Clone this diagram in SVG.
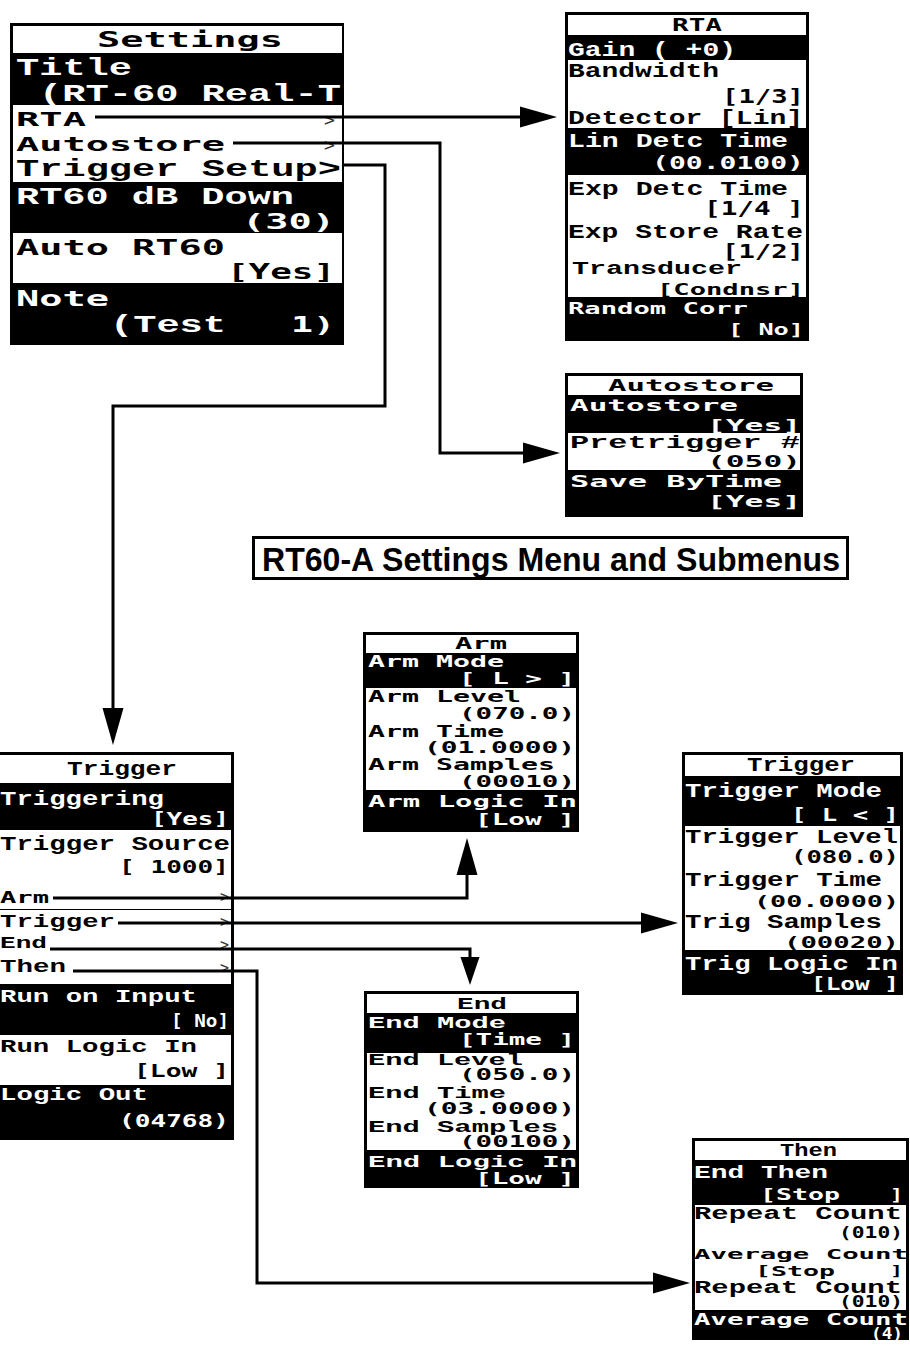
<svg xmlns="http://www.w3.org/2000/svg" width="910" height="1346" viewBox="0 0 910 1346">
<style>
.s{font-family:"DejaVu Sans Mono",monospace;font-weight:bold}
.r{font-family:"Liberation Mono","Courier New",monospace;font-weight:bold}
.w{fill:#fff}.k{fill:#000}
.ch{font-family:"DejaVu Sans Mono",monospace;font-weight:normal;fill:#333}
.frame{fill:#000}
.row{fill:#fff}
.cn{fill:none;stroke:#000;stroke-width:3;stroke-linejoin:miter}
.cap{font-family:"Liberation Sans",Arial,sans-serif;font-weight:bold;fill:#000}
</style>
<defs>
<marker id="ah" markerUnits="userSpaceOnUse" markerWidth="38" markerHeight="22" refX="0" refY="10.5" orient="auto" overflow="visible"><path d="M0,0 L37,10.5 L0,21 z" fill="#000"/></marker>
<marker id="ahs" markerUnits="userSpaceOnUse" markerWidth="29" markerHeight="20" refX="0" refY="9.5" orient="auto" overflow="visible"><path d="M0,0 L28,9.5 L0,19 z" fill="#000"/></marker>
</defs>
<rect width="910" height="1346" fill="#fff"/>

<g id="settings">
<rect class="frame" x="10" y="23" width="334" height="322"/>
<rect class="row" x="13" y="26" width="329" height="27"/>
<rect class="row" x="13" y="105" width="329" height="77"/>
<rect class="row" x="13" y="233" width="329" height="50"/>
<text class="s k" font-size="21" x="97" y="47" textLength="186" lengthAdjust="spacingAndGlyphs">Settings</text>
<text class="r w" font-size="23.5" x="16" y="75" textLength="116" lengthAdjust="spacingAndGlyphs">Title</text>
<text class="r w" font-size="23.5" x="39" y="101" textLength="302" lengthAdjust="spacingAndGlyphs">(RT-60 Real-T</text>
<text class="s k" font-size="20" x="16" y="126" textLength="70" lengthAdjust="spacingAndGlyphs">RTA</text>
<text class="ch" font-size="18" x="324" y="126">&gt;</text>
<text class="s k" font-size="20" x="16" y="151" textLength="209" lengthAdjust="spacingAndGlyphs">Autostore</text>
<text class="ch" font-size="18" x="324" y="151">&gt;</text>
<text class="r k" font-size="23.5" x="16" y="176" textLength="325" lengthAdjust="spacingAndGlyphs">Trigger Setup&gt;</text>
<text class="r w" font-size="23.5" x="16" y="204" textLength="278" lengthAdjust="spacingAndGlyphs">RT60 dB Down</text>
<text class="s w" font-size="21" x="335" y="229" text-anchor="end" textLength="93" lengthAdjust="spacingAndGlyphs">(30)</text>
<text class="s k" font-size="21" x="16" y="255" textLength="209" lengthAdjust="spacingAndGlyphs">Auto RT60</text>
<text class="s k" font-size="21" x="335" y="279" text-anchor="end" textLength="108" lengthAdjust="spacingAndGlyphs">[Yes]</text>
<text class="s w" font-size="21" x="16" y="306" textLength="93" lengthAdjust="spacingAndGlyphs">Note</text>
<text class="r w" font-size="23.5" x="110" y="332" textLength="116" lengthAdjust="spacingAndGlyphs">(Test</text>
<text class="s w" font-size="21" x="335" y="332" text-anchor="end" textLength="44" lengthAdjust="spacingAndGlyphs">1)</text>
</g>

<g id="rta">
<rect class="frame" x="565" y="12" width="244" height="329"/>
<rect class="row" x="568" y="15" width="238" height="20"/>
<rect class="row" x="568" y="60" width="238" height="68"/>
<rect class="row" x="568" y="175" width="238" height="122"/>
<text class="s k" font-size="18" x="672" y="31" textLength="50" lengthAdjust="spacingAndGlyphs">RTA</text>
<text class="r w" font-size="21" x="568" y="56" textLength="168" lengthAdjust="spacingAndGlyphs">Gain ( +0)</text>
<text class="r k" font-size="21" x="568" y="77" textLength="151" lengthAdjust="spacingAndGlyphs">Bandwidth</text>
<text class="s k" font-size="19" x="804" y="103" text-anchor="end" textLength="82" lengthAdjust="spacingAndGlyphs">[1/3]</text>
<text class="r k" font-size="21" x="568" y="124" textLength="235" lengthAdjust="spacingAndGlyphs">Detector [Lin]</text>
<text class="r w" font-size="20" x="568" y="147" textLength="220" lengthAdjust="spacingAndGlyphs">Lin Detc Time</text>
<text class="s w" font-size="18" x="804" y="169" text-anchor="end" textLength="152" lengthAdjust="spacingAndGlyphs">(00.0100)</text>
<text class="r k" font-size="21" x="568" y="195" textLength="220" lengthAdjust="spacingAndGlyphs">Exp Detc Time</text>
<text class="s k" font-size="19" x="804" y="215" text-anchor="end" textLength="100" lengthAdjust="spacingAndGlyphs">[1/4 ]</text>
<text class="r k" font-size="21" x="568" y="238" textLength="235" lengthAdjust="spacingAndGlyphs">Exp Store Rate</text>
<text class="s k" font-size="19" x="804" y="258" text-anchor="end" textLength="82" lengthAdjust="spacingAndGlyphs">[1/2]</text>
<text class="r k" font-size="18" x="572" y="274" textLength="170" lengthAdjust="spacingAndGlyphs">Transducer</text>
<text class="s k" font-size="16" x="804" y="295" text-anchor="end" textLength="147" lengthAdjust="spacingAndGlyphs">[Condnsr]</text>
<text class="s w" font-size="16" x="568" y="314" textLength="180" lengthAdjust="spacingAndGlyphs">Random Corr</text>
<text class="s w" font-size="16" x="804" y="335" text-anchor="end" textLength="76" lengthAdjust="spacingAndGlyphs">[ No]</text>
</g>

<g id="autostore">
<rect class="frame" x="565" y="373" width="238" height="144"/>
<rect class="row" x="568" y="376" width="232" height="19"/>
<rect class="row" x="568" y="433" width="232" height="37"/>
<text class="s k" font-size="16" x="608" y="391" textLength="166" lengthAdjust="spacingAndGlyphs">Autostore</text>
<text class="s w" font-size="16" x="570" y="411" textLength="168" lengthAdjust="spacingAndGlyphs">Autostore</text>
<text class="s w" font-size="16" x="801" y="431" text-anchor="end" textLength="94" lengthAdjust="spacingAndGlyphs">[Yes]</text>
<text class="r k" font-size="18" x="570" y="448" textLength="230" lengthAdjust="spacingAndGlyphs">Pretrigger #</text>
<text class="s k" font-size="16" x="801" y="467" text-anchor="end" textLength="94" lengthAdjust="spacingAndGlyphs">(050)</text>
<text class="s w" font-size="16" x="570" y="487" textLength="212" lengthAdjust="spacingAndGlyphs">Save ByTime</text>
<text class="s w" font-size="16" x="801" y="507" text-anchor="end" textLength="94" lengthAdjust="spacingAndGlyphs">[Yes]</text>
</g>

<g id="caption">
<rect x="253.5" y="537.5" width="594" height="41" fill="#fff" stroke="#000" stroke-width="3"/>
<text class="cap" font-size="34" x="262" y="571" textLength="578" lengthAdjust="spacingAndGlyphs">RT60-A Settings Menu and Submenus</text>
</g>

<g id="trigger-menu">
<rect class="frame" x="-5" y="752" width="239" height="388"/>
<rect class="row" x="-5" y="755" width="236" height="28"/>
<rect class="row" x="-5" y="830" width="236" height="154"/>
<rect class="row" x="-5" y="1035" width="236" height="50"/>
<line x1="-5" y1="909.5" x2="231" y2="909.5" stroke="#000" stroke-width="1"/>
<text class="r k" font-size="21" x="67" y="775" textLength="110" lengthAdjust="spacingAndGlyphs">Trigger</text>
<text class="r w" font-size="21" x="0" y="805" textLength="164" lengthAdjust="spacingAndGlyphs">Triggering</text>
<text class="s w" font-size="18" x="229" y="825" text-anchor="end" textLength="78" lengthAdjust="spacingAndGlyphs">[Yes]</text>
<text class="r k" font-size="21" x="0" y="850" textLength="230" lengthAdjust="spacingAndGlyphs">Trigger Source</text>
<text class="s k" font-size="18" x="229" y="873" text-anchor="end" textLength="110" lengthAdjust="spacingAndGlyphs">[ 1000]</text>
<text class="s k" font-size="15" x="0" y="903" textLength="49" lengthAdjust="spacingAndGlyphs">Arm</text>
<text class="ch" font-size="15" x="220" y="902">&gt;</text>
<text class="r k" font-size="18" x="0" y="927" textLength="115" lengthAdjust="spacingAndGlyphs">Trigger</text>
<text class="ch" font-size="15" x="220" y="927">&gt;</text>
<text class="r k" font-size="17" x="0" y="948" textLength="47" lengthAdjust="spacingAndGlyphs">End</text>
<text class="ch" font-size="15" x="220" y="950">&gt;</text>
<text class="r k" font-size="18" x="0" y="972" textLength="66" lengthAdjust="spacingAndGlyphs">Then</text>
<text class="ch" font-size="15" x="220" y="973">&gt;</text>
<text class="r w" font-size="19" x="0" y="1002" textLength="197" lengthAdjust="spacingAndGlyphs">Run on Input</text>
<text class="s w" font-size="18" x="229" y="1027" text-anchor="end" textLength="58" lengthAdjust="spacingAndGlyphs">[ No]</text>
<text class="r k" font-size="19" x="0" y="1052" textLength="197" lengthAdjust="spacingAndGlyphs">Run Logic In</text>
<text class="s k" font-size="18" x="229" y="1077" text-anchor="end" textLength="95" lengthAdjust="spacingAndGlyphs">[Low ]</text>
<text class="r w" font-size="19" x="0" y="1100" textLength="148" lengthAdjust="spacingAndGlyphs">Logic Out</text>
<text class="s w" font-size="18" x="229" y="1127" text-anchor="end" textLength="110" lengthAdjust="spacingAndGlyphs">(04768)</text>
</g>

<g id="arm">
<rect class="frame" x="363" y="632" width="216" height="200"/>
<rect class="row" x="366" y="635" width="210" height="18"/>
<rect class="row" x="366" y="688" width="210" height="102"/>
<text class="s k" font-size="15" x="455" y="649" textLength="52" lengthAdjust="spacingAndGlyphs">Arm</text>
<text class="s w" font-size="15" x="368" y="667" textLength="136" lengthAdjust="spacingAndGlyphs">Arm Mode</text>
<text class="s w" font-size="15" x="575" y="684" text-anchor="end" textLength="116" lengthAdjust="spacingAndGlyphs">[ L &gt; ]</text>
<text class="s k" font-size="15" x="368" y="702" textLength="153" lengthAdjust="spacingAndGlyphs">Arm Level</text>
<text class="s k" font-size="15" x="575" y="719" text-anchor="end" textLength="116" lengthAdjust="spacingAndGlyphs">(070.0)</text>
<text class="s k" font-size="15" x="368" y="737" textLength="136" lengthAdjust="spacingAndGlyphs">Arm Time</text>
<text class="s k" font-size="15" x="575" y="753" text-anchor="end" textLength="151" lengthAdjust="spacingAndGlyphs">(01.0000)</text>
<text class="s k" font-size="15" x="368" y="770" textLength="187" lengthAdjust="spacingAndGlyphs">Arm Samples</text>
<text class="s k" font-size="15" x="575" y="787" text-anchor="end" textLength="116" lengthAdjust="spacingAndGlyphs">(00010)</text>
<text class="s w" font-size="15" x="368" y="807" textLength="209" lengthAdjust="spacingAndGlyphs">Arm Logic In</text>
<text class="s w" font-size="15" x="575" y="825" text-anchor="end" textLength="100" lengthAdjust="spacingAndGlyphs">[Low ]</text>
</g>

<g id="trigger-sub">
<rect class="frame" x="682" y="752" width="221" height="243"/>
<rect class="row" x="685" y="755" width="215" height="21"/>
<rect class="row" x="685" y="826" width="215" height="124"/>
<text class="r k" font-size="20" x="747" y="771" textLength="108" lengthAdjust="spacingAndGlyphs">Trigger</text>
<text class="r w" font-size="21" x="685" y="797" textLength="197" lengthAdjust="spacingAndGlyphs">Trigger Mode</text>
<text class="s w" font-size="17" x="899" y="821" text-anchor="end" textLength="108" lengthAdjust="spacingAndGlyphs">[ L &lt; ]</text>
<text class="r k" font-size="21" x="685" y="843" textLength="213" lengthAdjust="spacingAndGlyphs">Trigger Level</text>
<text class="s k" font-size="17" x="899" y="863" text-anchor="end" textLength="108" lengthAdjust="spacingAndGlyphs">(080.0)</text>
<text class="r k" font-size="20" x="685" y="886" textLength="197" lengthAdjust="spacingAndGlyphs">Trigger Time</text>
<text class="s k" font-size="16" x="899" y="907" text-anchor="end" textLength="145" lengthAdjust="spacingAndGlyphs">(00.0000)</text>
<text class="r k" font-size="20" x="685" y="928" textLength="197" lengthAdjust="spacingAndGlyphs">Trig Samples</text>
<text class="s k" font-size="16" x="899" y="948" text-anchor="end" textLength="115" lengthAdjust="spacingAndGlyphs">(00020)</text>
<text class="r w" font-size="21" x="685" y="970" textLength="213" lengthAdjust="spacingAndGlyphs">Trig Logic In</text>
<text class="s w" font-size="17" x="899" y="990" text-anchor="end" textLength="88" lengthAdjust="spacingAndGlyphs">[Low ]</text>
</g>

<g id="end">
<rect class="frame" x="364" y="991" width="215" height="197"/>
<rect class="row" x="367" y="994" width="209" height="19"/>
<rect class="row" x="367" y="1053" width="209" height="97"/>
<text class="r k" font-size="17" x="457" y="1009" textLength="50" lengthAdjust="spacingAndGlyphs">End</text>
<text class="r w" font-size="17" x="368" y="1028" textLength="138" lengthAdjust="spacingAndGlyphs">End Mode</text>
<text class="s w" font-size="15" x="575" y="1045" text-anchor="end" textLength="116" lengthAdjust="spacingAndGlyphs">[Time ]</text>
<text class="r k" font-size="17" x="368" y="1065" textLength="155" lengthAdjust="spacingAndGlyphs">End Level</text>
<text class="s k" font-size="15" x="575" y="1080" text-anchor="end" textLength="116" lengthAdjust="spacingAndGlyphs">(050.0)</text>
<text class="r k" font-size="17" x="368" y="1098" textLength="138" lengthAdjust="spacingAndGlyphs">End Time</text>
<text class="s k" font-size="15" x="575" y="1114" text-anchor="end" textLength="151" lengthAdjust="spacingAndGlyphs">(03.0000)</text>
<text class="r k" font-size="17" x="368" y="1132" textLength="190" lengthAdjust="spacingAndGlyphs">End Samples</text>
<text class="s k" font-size="15" x="575" y="1147" text-anchor="end" textLength="116" lengthAdjust="spacingAndGlyphs">(00100)</text>
<text class="r w" font-size="17" x="368" y="1167" textLength="209" lengthAdjust="spacingAndGlyphs">End Logic In</text>
<text class="s w" font-size="15" x="575" y="1184" text-anchor="end" textLength="100" lengthAdjust="spacingAndGlyphs">[Low ]</text>
</g>

<g id="then">
<rect class="frame" x="692" y="1138" width="217" height="202"/>
<rect class="row" x="695" y="1141" width="211" height="19"/>
<rect class="row" x="695" y="1205" width="211" height="105"/>
<text class="r k" font-size="18" x="780" y="1156" textLength="57" lengthAdjust="spacingAndGlyphs">Then</text>
<text class="r w" font-size="18" x="694" y="1178" textLength="134" lengthAdjust="spacingAndGlyphs">End Then</text>
<text class="s w" font-size="15" x="760" y="1200" textLength="80" lengthAdjust="spacingAndGlyphs">[Stop</text>
<text class="s w" font-size="15" x="903" y="1200" text-anchor="end" textLength="13" lengthAdjust="spacingAndGlyphs">]</text>
<text class="r k" font-size="18" x="694" y="1219" textLength="208" lengthAdjust="spacingAndGlyphs">Repeat Count</text>
<text class="s k" font-size="15" x="903" y="1238" text-anchor="end" textLength="64" lengthAdjust="spacingAndGlyphs">(010)</text>
<text class="s k" font-size="14" x="694" y="1259" textLength="214" lengthAdjust="spacingAndGlyphs">Average Count</text>
<text class="s k" font-size="14" x="755" y="1276" textLength="80" lengthAdjust="spacingAndGlyphs">[Stop</text>
<text class="s k" font-size="14" x="903" y="1276" text-anchor="end" textLength="13" lengthAdjust="spacingAndGlyphs">]</text>
<text class="r k" font-size="18" x="694" y="1293" textLength="208" lengthAdjust="spacingAndGlyphs">Repeat Count</text>
<text class="s k" font-size="15" x="903" y="1307" text-anchor="end" textLength="64" lengthAdjust="spacingAndGlyphs">(010)</text>
<text class="s w" font-size="15" x="694" y="1325" textLength="214" lengthAdjust="spacingAndGlyphs">Average Count</text>
<text class="s w" font-size="15" x="903" y="1339" text-anchor="end" textLength="32" lengthAdjust="spacingAndGlyphs">(4)</text>
</g>

<g id="connectors">
<path class="cn" d="M95,117 H520" marker-end="url(#ah)"/>
<path class="cn" d="M233,143 H440 V453 H523" marker-end="url(#ah)"/>
<path class="cn" d="M343,165 H385 V406 H113 V708" marker-end="url(#ah)"/>
<path class="cn" d="M53,898 H467 V875" marker-end="url(#ah)"/>
<path class="cn" d="M118,923 H641" marker-end="url(#ah)"/>
<path class="cn" d="M50,949 H470 V957" marker-end="url(#ahs)"/>
<path class="cn" d="M73,971 H257 V1283 H653" marker-end="url(#ah)"/>
</g>
</svg>
